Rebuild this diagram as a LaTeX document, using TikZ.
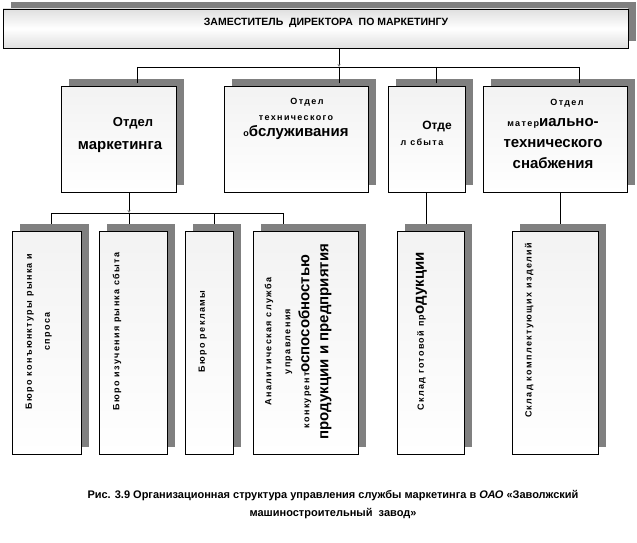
\documentclass[tikz,border=0pt]{standalone}
\usepackage{fontspec}
\setmainfont{Liberation Sans}
\newfontfamily\widefont[LetterSpace=15]{Liberation Sans}
\usetikzlibrary{shadows,arrows.meta,calc}
\newcommand\smtxt{\widefont\bfseries\fontsize{9}{10}\selectfont}
\newcommand\bigtxt{\rmfamily\bfseries\fontsize{15}{16}\selectfont}

\begin{document}
\begin{tikzpicture}[x=1pt, y=-1pt,
    block/.style={rectangle, draw, line width=0.8pt, inner sep=0pt, top color=gray!10, bottom color=white,
      drop shadow={shadow xshift=8pt, shadow yshift=7pt, fill=gray, opacity=1}},
    boxtext/.style={inner sep=0pt, align=center},
    vtext/.style={boxtext, rotate=90, anchor=north},
    conn/.style={line width=0.8pt},
    arr/.style={conn, -{Stealth[length=3pt, width=3pt, color=gray]}}]

    \useasboundingbox (0,0) rectangle (637,543);

    % Deputy director
    \node[block, top color=gray!25, bottom color=gray!25, middle color=white,
      minimum width=625pt, minimum height=39pt] (deputy) at (315.5,28.5) {};
    \node[boxtext, font=\bfseries\fontsize{10.5}{12}\selectfont] (deputytxt) at (326,23)
      {ЗАМЕСТИТЕЛЬ\ \ ДИРЕКТОРА\ \ ПО МАРКЕТИНГУ};

    % Departments
    \node[block, minimum width=115pt, minimum height=106pt] (mkt) at (118.5,139) {};
    \node[block, minimum width=144pt, minimum height=106pt] (tech) at (296,139) {};
    \node[block, minimum width=77pt, minimum height=106pt] (sales) at (426.5,139) {};
    \node[block, minimum width=144pt, minimum height=106pt] (supply) at (555,139) {};

    \node[boxtext, font=\bfseries\fontsize{13}{23}\selectfont] (mkttxt) at (120,135)
      {\hspace*{26pt}Отдел\\{\bigtxt маркетинга}};
    \node[boxtext, font=\fontsize{9}{16}\selectfont] (techtxt) at (296,119)
      {\hspace*{22pt}{\smtxt Отдел}\\{\smtxt технического}\\{\smtxt о}{\bigtxt бслуживания}};
    \node[boxtext, font=\fontsize{9}{16}\selectfont] (salestxt) at (429.5,133)
      {\hspace*{15pt}{\bfseries\fontsize{12}{16}\selectfont Отде}\\{\smtxt л сбыта}\hspace*{15pt}};
    \node[boxtext, font=\fontsize{9}{21}\selectfont] (supplytxt) at (553,134)
      {\hspace*{28pt}{\smtxt Отдел}\\{\smtxt матер}{\bigtxt иально-}\\{\bigtxt технического}\\{\bigtxt снабжения}};

    % Bureaus and stores
    \foreach \n/\x/\w in {bconj/46.5/69pt, bstudy/133/68pt, badv/209/48pt, banal/305.5/105pt, bstore/430.5/67pt, bparts/555/86pt}
      \node[block, minimum width=\w, minimum height=223pt] (\n) at (\x,342.5) {};

    \node[vtext, font={\smtxt\setlength\baselineskip{18pt}}] (bconjtxt) at ($(bconj.west)+(14,-11)$)
      {Бюро конъюнктуры рынка и\\спроса};
    \node[vtext, font=\smtxt] (bstudytxt) at ($(bstudy.west)+(14,-11)$) {Бюро изучения рынка сбыта};
    \node[vtext, font=\smtxt] (badvtxt) at ($(badv.west)+(14,-11)$) {Бюро рекламы};
    \node[vtext, font={\smtxt\setlength\baselineskip{19pt}}] (banaltxt) at ($(banal.west)+(12,-1)$)
      {Аналитическая служба\\управления\\конкурент{\bigtxt оспособностью}\\{\bigtxt продукции и предприятия}};
    \node[vtext, font=\smtxt] (bstoretxt) at ($(bstore.west)+(19,-11)$) {Склад готовой пр{\bigtxt одукции}};
    \node[vtext, font=\smtxt] (bpartstxt) at ($(bparts.west)+(13,-12)$) {Склад комплектующих изделий};

    % Connectors from the deputy
    \coordinate (hub) at (339,67);
    \coordinate (jmkt) at (137,67);
    \coordinate (jsales) at (436,67);
    \coordinate (jsupply) at (579,67);
    \draw[arr] (deputy.south -| hub) -- (hub);
    \draw[conn] (jmkt) -- (jsupply);
    \foreach \j/\b in {jmkt/mkt, hub/tech, jsales/sales, jsupply/supply}
      \draw[arr] (\j) -- (\j |- \b.north);

    % Connectors from the marketing department
    \coordinate (mhub) at (129,213);
    \coordinate (jconj) at (51,213);
    \coordinate (jadv) at (214,213);
    \coordinate (janal) at (283,213);
    \draw[arr] (mkt.south -| mhub) -- (mhub);
    \draw[conn] (jconj) -- (janal);
    \foreach \j/\b in {jconj/bconj, mhub/bstudy, jadv/badv, janal/banal}
      \draw[conn] (\j) -- ($(\j |- \b.north)+(0,-7)$);

    % Stores
    \coordinate (jparts) at (560,224);
    \draw[conn] (sales.south) -- ($(sales.south |- bstore.north)+(0,-7)$);
    \draw[conn] (supply.south -| jparts) -- (jparts);

    % Caption
    \node[boxtext, font=\bfseries\fontsize{11}{18}\selectfont] (caption) at (333,505)
      {Рис. 3.9 Организационная структура управления службы маркетинга в \textit{ОАО} «Заволжский\\машиностроительный\ \ завод»};

\end{tikzpicture}
\end{document}
